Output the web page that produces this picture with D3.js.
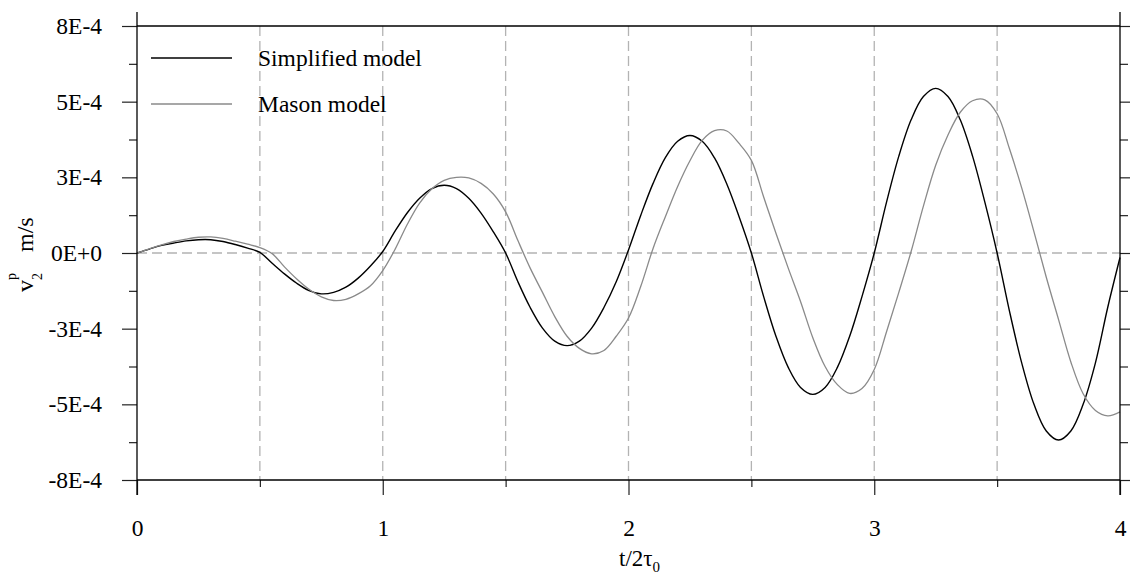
<!DOCTYPE html>
<html>
<head>
<meta charset="utf-8">
<script src="https://cdn.jsdelivr.net/npm/d3@7"></script>
<style>
  html, body { margin: 0; padding: 0; background: #fff; }
  svg { display: block; }
</style>
</head>
<body>
<svg id="chart" width="1130" height="575"></svg>
<script>
// Sample times t / 2τ0
const times = [
  0.00, 0.05, 0.10, 0.15, 0.20, 0.25, 0.30, 0.35, 0.40, 0.45,
  0.50, 0.55, 0.60, 0.65, 0.70, 0.75, 0.80, 0.85, 0.90, 0.95,
  1.00, 1.05, 1.10, 1.15, 1.20, 1.25, 1.30, 1.35, 1.40, 1.45,
  1.50, 1.55, 1.60, 1.65, 1.70, 1.75, 1.80, 1.85, 1.90, 1.95,
  2.00, 2.05, 2.10, 2.15, 2.20, 2.25, 2.30, 2.35, 2.40, 2.45,
  2.50, 2.55, 2.60, 2.65, 2.70, 2.75, 2.80, 2.85, 2.90, 2.95,
  3.00, 3.05, 3.10, 3.15, 3.20, 3.25, 3.30, 3.35, 3.40, 3.45,
  3.50, 3.55, 3.60, 3.65, 3.70, 3.75, 3.80, 3.85, 3.90, 3.95,
  4.00
];

// Velocity v2^p in units of 1E-4 m/s
const simplifiedModel = [
  0.00, 0.13, 0.25, 0.33, 0.40, 0.44, 0.44, 0.38, 0.28, 0.16,
  0.02, -0.34, -0.69, -1.00, -1.24, -1.35, -1.30, -1.13, -0.83, -0.43,
  0.05, 0.72, 1.33, 1.81, 2.13, 2.24, 2.13, 1.81, 1.32, 0.70,
  0.00, -0.95, -1.80, -2.48, -2.91, -3.06, -2.91, -2.48, -1.80, -0.95,
  0.10, 1.25, 2.30, 3.15, 3.69, 3.88, 3.69, 3.14, 2.28, 1.20,
  0.00, -1.44, -2.75, -3.78, -4.44, -4.67, -4.44, -3.78, -2.75, -1.44,
  0.00, 1.68, 3.20, 4.40, 5.17, 5.44, 5.17, 4.40, 3.20, 1.68,
  0.00, -1.91, -3.63, -5.00, -5.88, -6.18, -5.88, -5.00, -3.63, -1.80,
  -0.15
];

const masonModel = [
  0.00, 0.14, 0.27, 0.38, 0.46, 0.52, 0.53, 0.48, 0.39, 0.29,
  0.18, -0.02, -0.46, -0.86, -1.20, -1.45, -1.57, -1.53, -1.35, -1.08,
  -0.58, 0.12, 0.95, 1.65, 2.12, 2.40, 2.50, 2.48, 2.30, 1.95,
  1.36, 0.41, -0.50, -1.30, -2.10, -2.75, -3.15, -3.33, -3.22, -2.75,
  -2.15, -1.10, 0.15, 1.20, 2.20, 3.05, 3.72, 4.04, 4.03, 3.62,
  3.06, 1.85, 0.65, -0.50, -1.60, -2.80, -3.75, -4.35, -4.64, -4.48,
  -3.85, -2.60, -1.30, 0.05, 1.55, 2.90, 3.90, 4.65, 5.03, 5.06,
  4.60, 3.45, 2.15, 0.70, -0.80, -2.20, -3.60, -4.65, -5.20, -5.38,
  -5.25
];
const valueUnit = 1e-4;

// Axis ticks
const yMajorTicks = [-7.5e-4, -5e-4, -2.5e-4, 0, 2.5e-4, 5e-4, 7.5e-4];
const yTickLabels = ["-8E-4", "-5E-4", "-3E-4", "0E+0", "3E-4", "5E-4", "8E-4"];
const yMinorTicks = [-6.25e-4, -3.75e-4, -1.25e-4, 1.25e-4, 3.75e-4, 6.25e-4];
const xMajorTicks = [0, 1, 2, 3, 4];
const xTickLabels = ["0", "1", "2", "3", "4"];
const xMinorTicks = [0.5, 1.5, 2.5, 3.5];
const xGridLines = [0.5, 1, 1.5, 2, 2.5, 3, 3.5];

const seriesNames = ["Simplified model", "Mason model"];
const seriesColors = ["#000000", "#8a8a8a"];

// Pick the first installed Times-like face
function pickSerif() {
  const candidates = ["Liberation Serif", "Times New Roman", "Times", "Tinos",
    "Nimbus Roman", "Nimbus Roman No9 L", "FreeSerif", "DejaVu Serif", "Noto Serif",
    "Bitstream Vera Serif", "Georgia"];
  const ctx = document.createElement("canvas").getContext("2d");
  const probe = "Simplified model 0123456789 mMwWiIl";
  ctx.font = "40px monospace";
  const base = ctx.measureText(probe).width;
  for (const c of candidates) {
    ctx.font = `40px "${c}", monospace`;
    if (Math.abs(ctx.measureText(probe).width - base) > 0.5) return `"${c}", serif`;
  }
  return "serif";
}
const serif = pickSerif();

const margin = { left: 137, top: 26 };
const plotW = 1120 - margin.left;
const plotH = 480 - margin.top;

const svg = d3.select("#chart").attr("font-family", serif);
const g = svg.append("g").attr("transform", `translate(${margin.left},${margin.top})`);

const x = d3.scaleLinear().domain([0, 4]).range([0, plotW]);
const y = d3.scaleLinear().domain([-7.5e-4, 7.5e-4]).range([plotH, 0]);

// Dashed grid lines
g.append("g").selectAll("line").data(xGridLines).join("line")
  .attr("x1", d => x(d)).attr("x2", d => x(d))
  .attr("y1", 0).attr("y2", plotH)
  .attr("stroke", "#b3b3b3").attr("stroke-width", 1.3)
  .attr("stroke-dasharray", "10,5");
g.append("line")
  .attr("x1", 0).attr("x2", plotW)
  .attr("y1", y(0)).attr("y2", y(0))
  .attr("stroke", "#b3b3b3").attr("stroke-width", 1.3)
  .attr("stroke-dasharray", "10,5");

// Curves
const line = d3.line()
  .x((d, i) => x(times[i]))
  .y(d => y(d * valueUnit))
  .curve(d3.curveCatmullRom.alpha(0.5));

[simplifiedModel, masonModel].forEach((s, k) => {
  g.append("path")
    .datum(s)
    .attr("fill", "none")
    .attr("stroke", seriesColors[k])
    .attr("stroke-width", k === 0 ? 1.4 : 1.3)
    .attr("d", line);
});

// Axes
function styleAxis(sel) {
  sel.select(".domain").remove();
  sel.attr("font-family", serif).attr("font-size", 23.5);
  sel.selectAll(".tick line").attr("stroke", "#222").attr("stroke-width", 1.2);
  sel.selectAll(".tick text").attr("fill", "#000");
}

g.append("g")
  .call(d3.axisLeft(y).tickValues(yMajorTicks).tickSize(15).tickPadding(20)
    .tickFormat((d, i) => yTickLabels[i]))
  .call(styleAxis);
g.append("g")
  .call(d3.axisLeft(y).tickValues(yMinorTicks).tickSize(8).tickFormat(""))
  .call(styleAxis);
g.append("g").attr("transform", `translate(${plotW},0)`)
  .call(d3.axisRight(y).tickValues(yMajorTicks).tickSize(14).tickFormat(""))
  .call(styleAxis);
g.append("g").attr("transform", `translate(${plotW},0)`)
  .call(d3.axisRight(y).tickValues(yMinorTicks).tickSize(8).tickFormat(""))
  .call(styleAxis);
g.append("g").attr("transform", `translate(0,${plotH})`)
  .call(d3.axisBottom(x).tickValues(xMajorTicks).tickSize(15).tickPadding(24)
    .tickFormat((d, i) => xTickLabels[i]))
  .call(styleAxis);
g.append("g").attr("transform", `translate(0,${plotH})`)
  .call(d3.axisBottom(x).tickValues(xMinorTicks).tickSize(7).tickFormat(""))
  .call(styleAxis);

// Frame
const frame = g.append("g").attr("stroke", "#000").attr("stroke-width", 1.3);
frame.append("line").attr("x1", 0).attr("x2", 0).attr("y1", -14).attr("y2", plotH + 15);
frame.append("line").attr("x1", plotW).attr("x2", plotW).attr("y1", -14).attr("y2", plotH + 15);
frame.append("line").attr("x1", 0).attr("x2", plotW).attr("y1", 0).attr("y2", 0);
frame.append("line").attr("x1", 0).attr("x2", plotW).attr("y1", plotH).attr("y2", plotH);

// Legend
const legend = svg.append("g");
seriesNames.forEach((name, k) => {
  const ly = 58 + k * 46;
  legend.append("line")
    .attr("x1", 151).attr("x2", 232).attr("y1", ly).attr("y2", ly)
    .attr("stroke", seriesColors[k]).attr("stroke-width", 1.4);
  legend.append("text")
    .attr("x", 258).attr("y", ly + 7.5)
    .attr("font-size", 23.5).attr("fill", "#000")
    .text(name);
});

// Y axis title: v2^p  m/s
const yTitle = svg.append("g").attr("transform", "translate(33,253) rotate(-90)");
yTitle.append("text").attr("x", -39).attr("y", 0).attr("font-size", 24).text("v");
yTitle.append("text").attr("x", -27).attr("y", 9).attr("font-size", 14).text("2");
yTitle.append("text").attr("x", -27).attr("y", -17).attr("font-size", 14).text("p");
yTitle.append("text").attr("x", 1).attr("y", 0).attr("font-size", 24).text("m/s");

// X axis title: t/2τ0
const xTitle = svg.append("text").attr("x", 619).attr("y", 566).attr("font-size", 23);
xTitle.append("tspan").text("t/2τ");
xTitle.append("tspan").attr("dy", 6).attr("font-size", 15).text("0");
</script>
</body>
</html>
